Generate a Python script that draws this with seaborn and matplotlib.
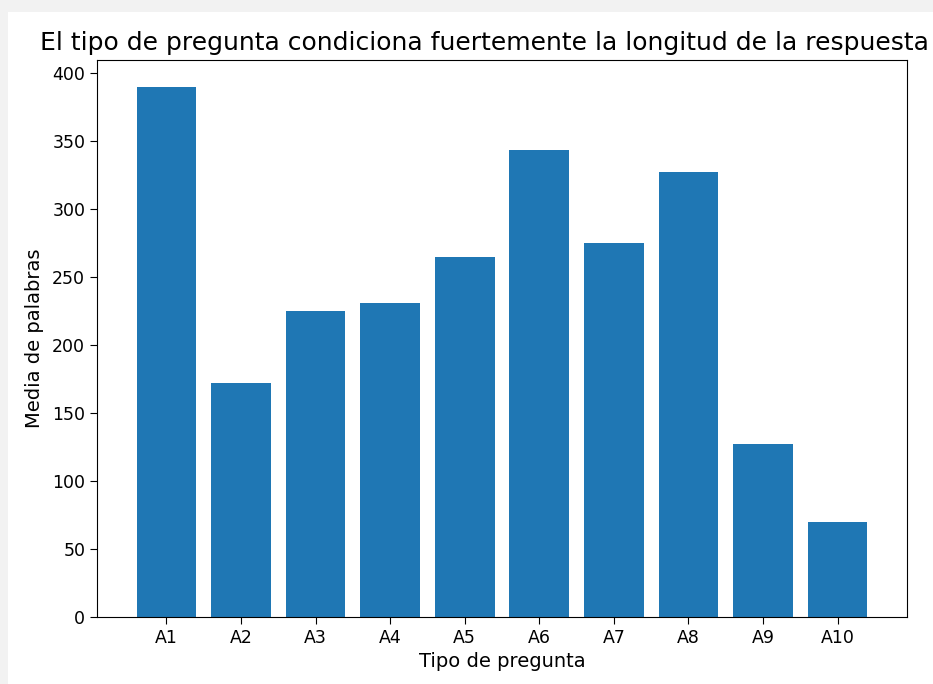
import matplotlib
matplotlib.use("Agg")
import matplotlib.pyplot as plt
import seaborn as sns
import pandas as pd
from matplotlib.patches import Rectangle

# data
tipos = ["A1", "A2", "A3", "A4", "A5", "A6", "A7", "A8", "A9", "A10"]
media_palabras = [390, 172, 225, 231, 265, 343, 275, 327, 127, 70]

df = pd.DataFrame({"Tipo": tipos, "Media": media_palabras})

W, H = 933, 684
fig = plt.figure(figsize=(W / 100, H / 100), dpi=100, facecolor="#f2f2f2")
# white page area (screenshot frame)
fig.patches.append(Rectangle((8 / W, 0), 1, 1 - 12 / H, transform=fig.transFigure,
                             facecolor="white", edgecolor="none", zorder=-1))

ax = fig.add_axes([97 / W, 1 - 617 / H, 810 / W, 557 / H])
sns.barplot(data=df, x="Tipo", y="Media", color="#1f77b4", saturation=1,
            width=0.8, ax=ax, errorbar=None)

ax.set_xlim(-0.93, 9.93)
ax.set_ylim(0, 409.5)
ax.set_yticks(range(0, 401, 50))
ax.tick_params(labelsize=12.5, length=5)
ax.set_xlabel("Tipo de pregunta", fontsize=14)
ax.set_ylabel("Media de palabras", fontsize=14, labelpad=6)
ax.set_title("El tipo de pregunta condiciona fuertemente la longitud de la respuesta",
             fontsize=18, pad=7, x=0.478)

fig.savefig("out.png", dpi=100, facecolor=fig.get_facecolor())
